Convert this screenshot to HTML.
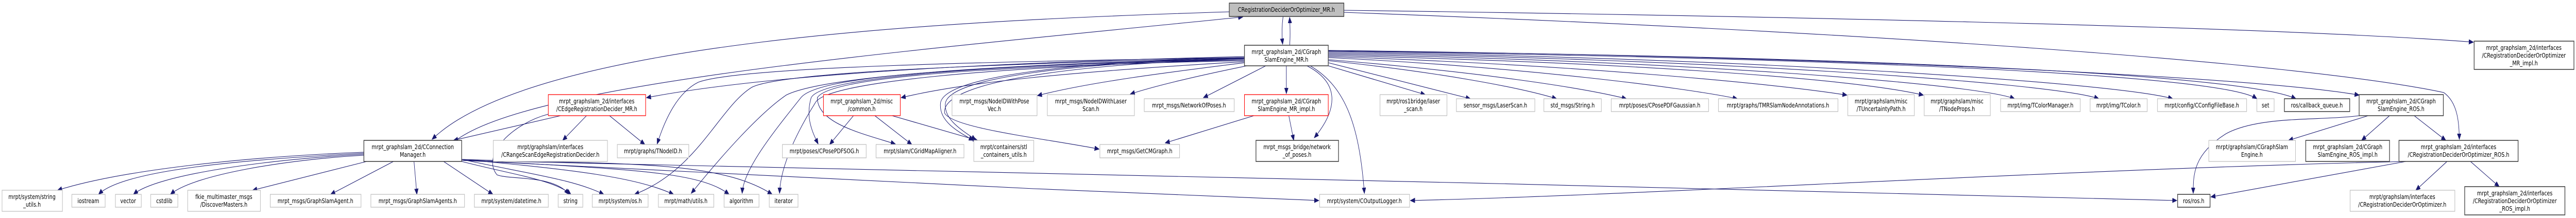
<!DOCTYPE html>
<html><head><meta charset="utf-8"><style>
html,body{margin:0;padding:0;background:#fff;width:100%;height:100%;overflow:hidden;}
svg{display:block;width:100vw;height:100vh;}
text{font-family:"DejaVu Sans","Liberation Sans",sans-serif;font-size:12px;fill:#000;text-anchor:middle;}
.g{fill:#fff;stroke:#bfbfbf;stroke-width:1.3}
.d{fill:#fff;stroke:#404040;stroke-width:1.6}
.r{fill:#fff;stroke:#ff0000;stroke-width:1.3}
.t{fill:#bfbfbf;stroke:#404040;stroke-width:1.6}
path{fill:none;stroke:#191970;stroke-width:1.1;marker-end:url(#a)}
</style></head><body>
<svg viewBox="0 0 6272 424" preserveAspectRatio="none" xmlns="http://www.w3.org/2000/svg">
<defs><marker id="a" markerUnits="userSpaceOnUse" markerWidth="12" markerHeight="10" refX="11" refY="4.5" orient="auto"><polygon points="0,0 11,4.5 0,9" fill="#191970" stroke="#191970"/></marker></defs>
<path d="M3124,32 C3121,50 3121,70 3123,86"/>
<path d="M3140,88 C3142,70 3141,50 3140,34"/>
<path d="M2993,23 C2300,40 1300,80 1052,271"/>
<path d="M1110,273 C1300,160 2200,100 3026,33"/>
<path d="M3272,20 C4200,30 5500,50 6022,82"/>
<path d="M3272,24 C4500,60 5600,120 5950,180 C5985,200 5987,240 5988,271"/>
<path d="M3030,110 C2500,120 1900,140 1574,190"/>
<path d="M3030,112 C2400,120 1800,130 1700,160 C1650,180 1620,230 1600,280"/>
<path d="M3030,112 C2400,125 1900,140 1830,170 C1750,210 1700,330 1545,378"/>
<path d="M3030,114 C2400,125 2000,150 1914,185 C1850,220 1760,300 1683,376"/>
<path d="M3030,114 C2300,130 1990,150 1950,190 C1880,260 1810,330 1807,376"/>
<path d="M3030,116 C2400,130 2010,160 1985,200 C1930,270 1900,330 1898,376"/>
<path d="M3030,116 C2400,125 2000,150 1975,190 C1960,230 1980,260 1992,280"/>
<path d="M3030,118 C2400,128 2020,150 1990,190 C1990,240 2100,260 2180,280"/>
<path d="M3030,120 C2600,140 2350,160 2194,190"/>
<path d="M3030,112 C2600,120 2300,150 2290,200 C2285,235 2330,255 2370,273"/>
<path d="M3030,113 C2620,122 2315,150 2302,200 C2297,232 2340,252 2376,272"/>
<path d="M3030,114 C2600,125 2290,160 2300,220 C2320,250 2550,270 2676,290"/>
<path d="M3030,122 C2850,140 2650,160 2526,186"/>
<path d="M3036,128 C2900,150 2800,170 2752,183"/>
<path d="M3082,128 L2930,190"/>
<path d="M3132,128 L3132,182"/>
<path d="M3182,128 C3260,160 3260,210 3200,268"/>
<path d="M3190,128 C3280,170 3310,250 3322,376"/>
<path d="M3234,128 L3470,184"/>
<path d="M3234,122 L3580,192"/>
<path d="M3234,118 C3500,140 3700,170 3790,192"/>
<path d="M3234,116 C3600,140 3850,170 3960,192"/>
<path d="M3234,112 C3700,130 4100,170 4230,192"/>
<path d="M3234,110 C3800,125 4300,160 4497,185"/>
<path d="M3234,108 C3900,120 4500,150 4683,185"/>
<path d="M3234,106 C4000,115 4800,160 4905,192"/>
<path d="M3234,104 C4100,112 5000,160 5110,192"/>
<path d="M3234,102 C4200,110 5150,160 5290,192"/>
<path d="M3234,100 C4300,110 5400,140 5495,192"/>
<path d="M3234,99 C4400,108 5450,140 5590,192"/>
<path d="M3234,98 C4500,110 5500,150 5744,185"/>
<path d="M886,296 C600,305 300,330 140,370"/>
<path d="M886,298 C600,310 300,330 240,378"/>
<path d="M886,300 C650,310 380,340 325,378"/>
<path d="M886,302 C700,310 470,340 415,378"/>
<path d="M893,314 L615,370"/>
<path d="M958,314 L805,378"/>
<path d="M1008,314 L1015,378"/>
<path d="M1080,314 L1200,378"/>
<path d="M1124,314 C1250,340 1350,350 1390,378"/>
<path d="M1124,310 C1300,340 1400,350 1470,378"/>
<path d="M1124,310 C1400,330 1550,345 1640,378"/>
<path d="M1124,310 C1500,330 1700,330 1775,378"/>
<path d="M1124,310 C1500,320 1750,310 1880,378"/>
<path d="M1124,312 C1600,330 2500,370 3211,390"/>
<path d="M1124,312 C2000,330 4000,360 5300,390"/>
<path d="M1365,225 L1104,273"/>
<path d="M1428,225 L1370,273"/>
<path d="M1484,225 L1570,281"/>
<path d="M1335,222 C1250,240 1170,300 1210,340 C1240,350 1350,340 1385,378"/>
<path d="M2078,225 L2020,281"/>
<path d="M2130,225 L2220,281"/>
<path d="M2172,225 L2380,273"/>
<path d="M3138,225 L3150,273"/>
<path d="M3053,225 L2837,278"/>
<path d="M5744,225 C5650,235 5500,225 5420,260 C5340,300 5340,340 5340,376"/>
<path d="M5766,225 L5572,273"/>
<path d="M5818,225 L5750,273"/>
<path d="M5878,225 L5955,273"/>
<path d="M5860,314 C5000,330 4000,380 3434,390"/>
<path d="M5858,314 L5383,383"/>
<path d="M5958,314 L5882,370"/>
<path d="M6015,314 L6085,363"/>

<rect class="t" x="2993" y="6" width="279" height="26"/><text x="3132" y="23">CRegistrationDeciderOrOptimizer_MR.h</text>
<rect class="d" x="3030" y="88" width="204" height="40"/><text x="3132" y="105">mrpt_graphslam_2d/CGraph</text><text x="3132" y="120">SlamEngine_MR.h</text>
<rect class="d" x="6024" y="80" width="243" height="55"/><text x="6145" y="97">mrpt_graphslam_2d/interfaces</text><text x="6145" y="112">/CRegistrationDeciderOrOptimizer</text><text x="6145" y="127">_MR_impl.h</text>

<rect class="r" x="1335" y="184" width="237" height="41"/><text x="1453" y="201">mrpt_graphslam_2d/interfaces</text><text x="1453" y="216">/CEdgeRegistrationDecider_MR.h</text>
<rect class="r" x="2005" y="184" width="187" height="41"/><text x="2098" y="201">mrpt_graphslam_2d/misc</text><text x="2098" y="216">/common.h</text>
<rect class="g" x="2318" y="184" width="207" height="41"/><text x="2421" y="201">mrpt_msgs/NodeIDWithPose</text><text x="2421" y="216">Vec.h</text>
<rect class="g" x="2550" y="184" width="212" height="41"/><text x="2656" y="201">mrpt_msgs/NodeIDWithLaser</text><text x="2656" y="216">Scan.h</text>
<rect class="g" x="2786" y="192" width="219" height="25"/><text x="2895" y="209">mrpt_msgs/NetworkOfPoses.h</text>
<rect class="r" x="3030" y="184" width="204" height="41"/><text x="3132" y="201">mrpt_graphslam_2d/CGraph</text><text x="3132" y="216">SlamEngine_MR_impl.h</text>
<rect class="g" x="3360" y="184" width="163" height="41"/><text x="3441" y="201">mrpt/ros1bridge/laser</text><text x="3441" y="216">_scan.h</text>
<rect class="g" x="3546" y="192" width="191" height="25"/><text x="3641" y="209">sensor_msgs/LaserScan.h</text>
<rect class="g" x="3759" y="192" width="140" height="25"/><text x="3829" y="209">std_msgs/String.h</text>
<rect class="g" x="3923" y="192" width="237" height="25"/><text x="4041" y="209">mrpt/poses/CPosePDFGaussian.h</text>
<rect class="g" x="4184" y="192" width="291" height="25"/><text x="4329" y="209">mrpt/graphs/TMRSlamNodeAnnotations.h</text>
<rect class="g" x="4499" y="184" width="162" height="41"/><text x="4580" y="201">mrpt/graphslam/misc</text><text x="4580" y="216">/TUncertaintyPath.h</text>
<rect class="g" x="4685" y="184" width="161" height="41"/><text x="4765" y="201">mrpt/graphslam/misc</text><text x="4765" y="216">/TNodeProps.h</text>
<rect class="g" x="4871" y="192" width="194" height="25"/><text x="4968" y="209">mrpt/img/TColorManager.h</text>
<rect class="g" x="5089" y="192" width="139" height="25"/><text x="5158" y="209">mrpt/img/TColor.h</text>
<rect class="g" x="5253" y="192" width="217" height="25"/><text x="5361" y="209">mrpt/config/CConfigFileBase.h</text>
<rect class="g" x="5495" y="192" width="42" height="25"/><text x="5516" y="209">set</text>
<rect class="d" x="5562" y="192" width="159" height="25"/><text x="5641" y="209">ros/callback_queue.h</text>
<rect class="d" x="5744" y="184" width="205" height="41"/><text x="5846" y="201">mrpt_graphslam_2d/CGraph</text><text x="5846" y="216">SlamEngine_ROS.h</text>

<rect class="d" x="886" y="273" width="238" height="41"/><text x="1005" y="290">mrpt_graphslam_2d/CConnection</text><text x="1005" y="305">Manager.h</text>
<rect class="g" x="1201" y="273" width="278" height="41"/><text x="1340" y="290">mrpt/graphslam/interfaces</text><text x="1340" y="305">/CRangeScanEdgeRegistrationDecider.h</text>
<rect class="g" x="1503" y="281" width="174" height="26"/><text x="1590" y="298">mrpt/graphs/TNodeID.h</text>
<rect class="g" x="1905" y="281" width="204" height="26"/><text x="2007" y="298">mrpt/poses/CPosePDFSOG.h</text>
<rect class="g" x="2133" y="281" width="214" height="26"/><text x="2240" y="298">mrpt/slam/CGridMapAligner.h</text>
<rect class="g" x="2371" y="273" width="146" height="41"/><text x="2444" y="290">mrpt/containers/stl</text><text x="2444" y="305">_containers_utils.h</text>
<rect class="g" x="2678" y="281" width="194" height="26"/><text x="2775" y="298">mrpt_msgs/GetCMGraph.h</text>
<rect class="d" x="3058" y="273" width="201" height="41"/><text x="3158" y="290">mrpt_msgs_bridge/network</text><text x="3158" y="305">_of_poses.h</text>
<rect class="g" x="5378" y="273" width="211" height="41"/><text x="5483" y="290">mrpt/graphslam/CGraphSlam</text><text x="5483" y="305">Engine.h</text>
<rect class="d" x="5614" y="273" width="204" height="41"/><text x="5716" y="290">mrpt_graphslam_2d/CGraph</text><text x="5716" y="305">SlamEngine_ROS_impl.h</text>
<rect class="d" x="5841" y="273" width="290" height="41"/><text x="5986" y="290">mrpt_graphslam_2d/interfaces</text><text x="5986" y="305">/CRegistrationDeciderOrOptimizer_ROS.h</text>

<rect class="g" x="5" y="370" width="147" height="41"/><text x="78" y="387">mrpt/system/string</text><text x="78" y="402">_utils.h</text>
<rect class="g" x="175" y="378" width="81" height="25"/><text x="215" y="395">iostream</text>
<rect class="g" x="281" y="378" width="63" height="25"/><text x="312" y="395">vector</text>
<rect class="g" x="367" y="378" width="66" height="25"/><text x="400" y="395">cstdlib</text>
<rect class="g" x="457" y="370" width="177" height="41"/><text x="545" y="387">fkie_multimaster_msgs</text><text x="545" y="402">/DiscoverMasters.h</text>
<rect class="g" x="658" y="378" width="221" height="25"/><text x="768" y="395">mrpt_msgs/GraphSlamAgent.h</text>
<rect class="g" x="903" y="378" width="228" height="25"/><text x="1017" y="395">mrpt_msgs/GraphSlamAgents.h</text>
<rect class="g" x="1155" y="378" width="180" height="25"/><text x="1245" y="395">mrpt/system/datetime.h</text>
<rect class="g" x="1359" y="378" width="60" height="25"/><text x="1389" y="395">string</text>
<rect class="g" x="1442" y="378" width="136" height="25"/><text x="1510" y="395">mrpt/system/os.h</text>
<rect class="g" x="1603" y="378" width="135" height="25"/><text x="1670" y="395">mrpt/math/utils.h</text>
<rect class="g" x="1763" y="378" width="85" height="25"/><text x="1805" y="395">algorithm</text>
<rect class="g" x="1873" y="378" width="70" height="25"/><text x="1908" y="395">iterator</text>
<rect class="g" x="3213" y="378" width="219" height="25"/><text x="3322" y="395">mrpt/system/COutputLogger.h</text>
<rect class="d" x="5302" y="378" width="79" height="25"/><text x="5341" y="395">ros/ros.h</text>
<rect class="g" x="5722" y="370" width="255" height="41"/><text x="5849" y="387">mrpt/graphslam/interfaces</text><text x="5849" y="402">/CRegistrationDeciderOrOptimizer.h</text>
<rect class="d" x="6001" y="363" width="244" height="55"/><text x="6123" y="380">mrpt_graphslam_2d/interfaces</text><text x="6123" y="395">/CRegistrationDeciderOrOptimizer</text><text x="6123" y="410">_ROS_impl.h</text>
</svg>
</body></html>
